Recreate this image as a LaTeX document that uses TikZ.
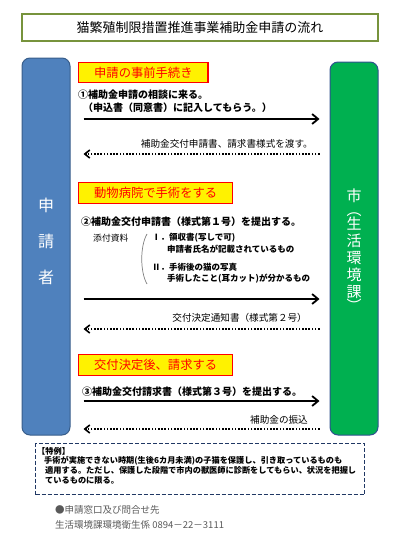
\documentclass[tikz,border=0pt]{standalone}
\usepackage{fontspec}
\setmainfont{Noto Sans CJK JP}
\usetikzlibrary{arrows.meta,positioning}

\definecolor{ttlgreen}{HTML}{77933C}
\definecolor{aplblue}{HTML}{4F81BD}
\definecolor{aplline}{HTML}{385D8A}
\definecolor{citygreen}{HTML}{00B050}
\definecolor{cityline}{HTML}{2F528F}
\definecolor{notenavy}{HTML}{203864}
\definecolor{infogray}{HTML}{595959}

\begin{document}
\begin{tikzpicture}[
  x=1pt,y=-1pt,
  pb/.style={rounded corners=8pt,line width=1pt,minimum width=48pt},
  hd/.style={draw=red,line width=1.3pt,fill=yellow,text=red,anchor=west,
             font=\fontsize{12.3}{14}\selectfont,inner xsep=15.5pt,minimum height=20.5pt},
  it/.style={anchor=west,inner sep=0pt,font=\fontsize{10}{12}\selectfont\bfseries},
  rt/.style={anchor=east,inner sep=0pt,font=\fontsize{9.6}{12}\selectfont},
  sb/.style={anchor=west,inner sep=0pt,font=\fontsize{8.5}{10}\selectfont\bfseries},
  go/.style={line width=1.8pt,-{Straight Barb[length=6pt,width=10pt]},
             shorten <=13pt,shorten >=10pt},
  bk/.style={line width=1.6pt,dash pattern=on 1.6pt off 1.6pt,
             -{Straight Barb[length=5pt,width=8pt]},shorten <=10pt,shorten >=13pt},
]
\useasboundingbox (0,0) rectangle (400,533);

% title
\node[draw=ttlgreen,line width=1.8pt,minimum width=356pt,minimum height=27pt,
      font=\fontsize{13}{15}\selectfont] (title) at (200,27.5)
  {猫繁殖制限措置推進事業補助金申請の流れ};

% the two parties
\node[pb,fill=aplblue,draw=aplline,minimum height=377pt] (appl) at (46,246.5) {};
\node[text=white,align=center,font=\fontsize{16}{36}\selectfont] (applT) at (46,241)
  {申\\請\\者};
\node[pb,fill=citygreen,draw=cityline,minimum height=373pt] (city) at (354,248.5) {};
\node[text=white,align=center,font=\fontsize{15}{17}\selectfont] (cityT) at (354,250)
  {市\\[-3pt]︵\\[-3pt]生\\活\\環\\境\\課\\[-3pt]︶};

% levels of the arrows
\coordinate (snd1) at (0,119);  \coordinate (ret1) at (0,154);
\coordinate (snd2) at (0,299);  \coordinate (ret2) at (0,329);
\coordinate (snd3) at (0,401);  \coordinate (ret3) at (0,429);

% step 1 -- before applying
\node[hd] (hdA) at (78,72.5) {申請の事前手続き};
\node[it] (stA) at (78,95) {①補助金申請の相談に来る。};
\node[it] (stA2) at (83,108) {（申込書（同意書）に記入してもらう。）};
\node[rt] (rtA) at (313,144) {補助金交付申請書、請求書様式を渡す。};

% step 2 -- surgery at the clinic
\node[hd] (hdB) at (78,193) {動物病院で手術をする};
\node[it] (stB) at (81,222) {②補助金交付申請書（様式第１号）を提出する。};
\node[anchor=west,inner sep=0pt,font=\fontsize{8.8}{10}\selectfont] (att) at (93,238) {添付資料};
\node[sb] (atA) at (152,238) {Ⅰ．領収書(写しで可)};
\node[sb] (atA2) at (167,249.5) {申請者氏名が記載されているもの};
\node[sb] (atB) at (152,267) {Ⅱ．手術後の猫の写真};
\node[sb] (atB2) at (167,278.5) {手術したこと(耳カット)が分かるもの};
\draw[gray,line width=0.7pt] (147,234) .. controls (140,246) and (140,272) .. (147,284);
\node[rt] (rtB) at (307,318) {交付決定通知書（様式第２号）};

% step 3 -- after the decision
\node[hd] (hdC) at (78,365) {交付決定後、請求する};
\node[it] (stC) at (82,392) {③補助金交付請求書（様式第３号）を提出する。};
\node[rt] (rtC) at (308,420) {補助金の振込};

% arrows
\draw[go] (appl.east |- snd1) -- (city.west |- snd1);
\draw[bk] (city.west |- ret1) -- (appl.east |- ret1);
\draw[go] (appl.east |- snd2) -- (city.west |- snd2);
\draw[bk] (city.west |- ret2) -- (appl.east |- ret2);
\draw[go] (appl.east |- snd3) -- (city.west |- snd3);
\draw[bk] (city.west |- ret3) -- (appl.east |- ret3);

% special case
\node[draw=notenavy,line width=1.2pt,dash pattern=on 4pt off 2pt,anchor=north west,
      minimum width=329pt,minimum height=51pt] (note) at (35,443) {};
\node[anchor=north west,inner sep=0pt,align=left,font=\fontsize{8.2}{9.6}\selectfont\bfseries]
  (noteT) at (37,447)
  {【特例】\\
   \hspace*{7pt}手術が実施できない時期(生後6カ月未満)の子猫を保護し、引き取っているものも\\
   \hspace*{8pt}適用する。ただし、保護した段階で市内の獣医師に診断をしてもらい、状況を把握し\\
   \hspace*{8pt}ているものに限る。};

% contact
\node[anchor=west,inner sep=0pt,text=infogray,font=\fontsize{9.5}{11}\selectfont] (cnt) at (55,510)
  {●申請窓口及び問合せ先};
\node[anchor=west,inner sep=0pt,text=infogray,font=\fontsize{9.5}{11}\selectfont] (tel) at (55,525)
  {生活環境課環境衛生係 0894－22－3111};
\end{tikzpicture}
\end{document}
